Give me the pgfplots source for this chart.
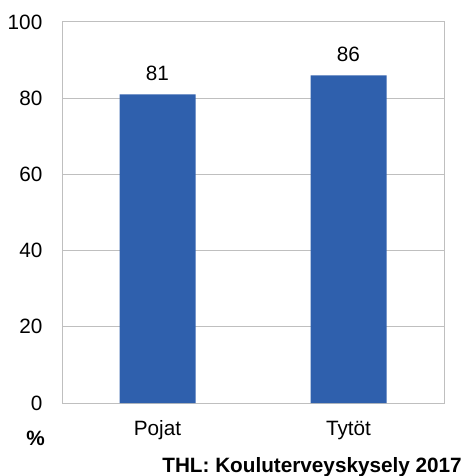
\documentclass[border=0pt]{standalone}
\usepackage{pgfplots}
\pgfplotsset{compat=1.18}
\usepackage{fontspec}
\setmainfont{Liberation Sans}
\definecolor{barblue}{HTML}{2F60AD}
\definecolor{gridgray}{HTML}{BFBFBF}
\begin{document}
\begin{tikzpicture}
\path[use as bounding box] (-62bp,-73bp) rectangle (401bp,403bp);
\begin{axis}[
  at={(0,0)}, anchor=south west,
  scale only axis, width=382bp, height=381bp,
  font=\fontsize{20.8}{24}\selectfont,
  xmin=-0.5, xmax=1.5, ymin=0, ymax=100,
  xtick=data, xticklabels={Pojat,Tytöt},
  ytick={0,20,40,60,80,100},
  major tick length=0pt,
  ymajorgrids, grid style={gridgray, line width=1bp},
  axis line style={gridgray, line width=1bp},
  /pgf/number format/assume math mode=true,
  yticklabel style={anchor=east, inner sep=0pt, xshift=-19.5bp},
  xticklabel style={anchor=base, inner sep=0pt, yshift=-32bp},
  ybar, bar width=76bp,
  nodes near coords,
  nodes near coords style={anchor=base, inner sep=0pt, yshift=14bp, black},
]
\addplot[fill=barblue, draw=none] coordinates {(0,81) (1,86)};
\end{axis}
\node[anchor=base, inner sep=0pt, font=\fontsize{20.8}{24}\selectfont\bfseries] at (-26.5bp,-42bp) {\%};
\node[anchor=base east, inner sep=0pt, font=\fontsize{20.8}{24}\selectfont\bfseries] at (400bp,-69bp) {THL: Kouluterveyskysely 2017};
\end{tikzpicture}
\end{document}
